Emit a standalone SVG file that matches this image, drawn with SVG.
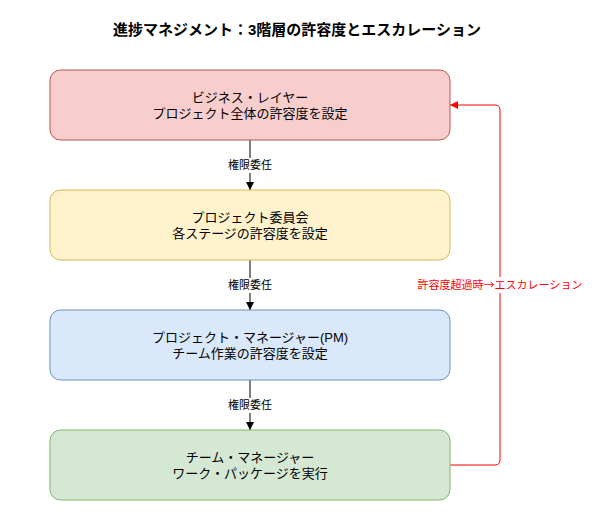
<svg xmlns="http://www.w3.org/2000/svg" width="595" height="513" viewBox="0 0 595 513">
<defs>
<style>
text{font-family:"Liberation Sans","Noto Sans CJK JP",sans-serif;text-anchor:middle;}
.title{font-size:15px;font-weight:bold;fill:#000;}
.node{font-size:13px;fill:#000;}
.lbl{font-size:11px;fill:#000;}
.red{font-size:11px;fill:#ff0000;font-family:"Noto Sans CJK JP",sans-serif;}
.box{stroke-width:1;}
.edge{fill:none;stroke:#000;stroke-width:1;}
.esc{fill:none;stroke:#ff0000;stroke-width:1;}
</style>
<marker id="ab" viewBox="0 0 10 10" refX="10" refY="5" markerWidth="8" markerHeight="8" markerUnits="userSpaceOnUse" orient="auto"><path d="M0,0 L10,5 L0,10 Z" fill="#000"/></marker>
<marker id="ar" viewBox="0 0 10 10" refX="10" refY="5" markerWidth="8" markerHeight="8" markerUnits="userSpaceOnUse" orient="auto"><path d="M0,0 L10,5 L0,10 Z" fill="#ff0000"/></marker>
</defs>
<rect width="595" height="513" fill="#fff"/>
<text class="title" x="297" y="35">進捗マネジメント：3階層の許容度とエスカレーション</text>
<g id="connectors">
<line class="edge" x1="250" y1="140" x2="250" y2="190" marker-end="url(#ab)"/>
<rect x="225" y="158" width="50" height="15" fill="#fff"/>
<text class="lbl" x="250" y="169">権限委任</text>
<line class="edge" x1="250" y1="260" x2="250" y2="310" marker-end="url(#ab)"/>
<rect x="225" y="278" width="50" height="15" fill="#fff"/>
<text class="lbl" x="250" y="289">権限委任</text>
<line class="edge" x1="250" y1="380" x2="250" y2="430" marker-end="url(#ab)"/>
<rect x="225" y="398" width="50" height="15" fill="#fff"/>
<text class="lbl" x="250" y="409">権限委任</text>
<path class="esc" d="M450,465 H495 Q500,465 500,460 V110 Q500,105 495,105 H450" marker-end="url(#ar)"/>
<rect x="416" y="277" width="168" height="16" fill="#fff"/>
<text class="red" x="500" y="289">許容度超過時→エスカレーション</text>
</g>
<g id="business">
<rect class="box" x="50" y="70" width="400" height="70" rx="10.5" fill="#f8cecc" stroke="#b85450"/>
<text class="node" x="250" y="102">ビジネス・レイヤー</text>
<text class="node" x="250" y="118">プロジェクト全体の許容度を設定</text>
</g>
<g id="board">
<rect class="box" x="50" y="190" width="400" height="70" rx="10.5" fill="#fff2cc" stroke="#d6b656"/>
<text class="node" x="250" y="222">プロジェクト委員会</text>
<text class="node" x="250" y="238">各ステージの許容度を設定</text>
</g>
<g id="pm">
<rect class="box" x="50" y="310" width="400" height="70" rx="10.5" fill="#dae8fc" stroke="#6c8ebf"/>
<text class="node" x="250" y="342">プロジェクト・マネージャー(PM)</text>
<text class="node" x="250" y="358">チーム作業の許容度を設定</text>
</g>
<g id="team">
<rect class="box" x="50" y="430" width="400" height="70" rx="10.5" fill="#d5e8d4" stroke="#82b366"/>
<text class="node" x="250" y="462">チーム・マネージャー</text>
<text class="node" x="250" y="478">ワーク・パッケージを実行</text>
</g>
</svg>
